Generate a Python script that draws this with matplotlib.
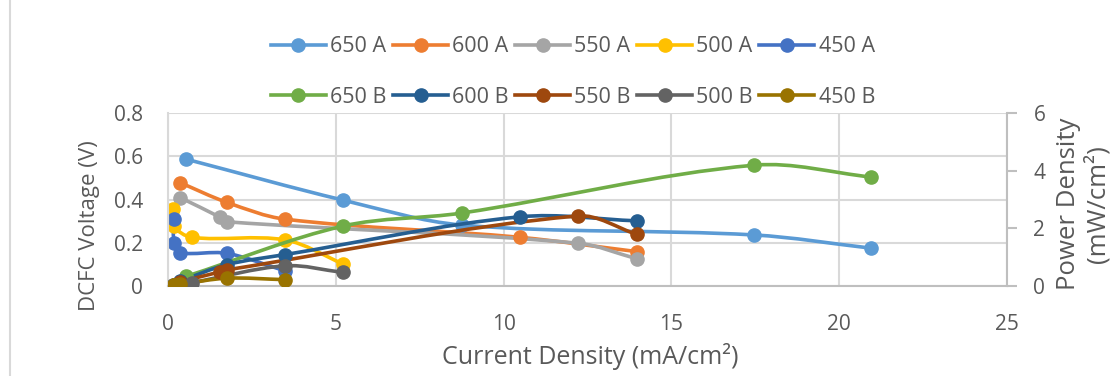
import matplotlib
matplotlib.use("Agg")
import matplotlib.pyplot as plt
from matplotlib.path import Path
from matplotlib.patches import PathPatch
from matplotlib.lines import Line2D
import numpy as np

plt.rcParams['font.family'] = ['Open Sans', 'DejaVu Sans']

# ---- data ----
current_650 = [0.53, 5.22, 8.75, 17.47, 20.95]
volt_650 = [0.587, 0.397, 0.282, 0.236, 0.175]
power_650 = [0.33, 2.08, 2.53, 4.19, 3.78]

current_600 = [0.36, 1.75, 3.49, 10.49, 13.97]
volt_600 = [0.478, 0.387, 0.309, 0.225, 0.159]
power_600 = [0.17, 0.74, 1.09, 2.40, 2.26]

current_550 = [0.36, 1.55, 1.75, 12.21, 13.97]
volt_550 = [0.409, 0.318, 0.297, 0.198, 0.126]
power_550 = [0.15, 0.49, 0.56, 2.43, 1.79]

current_500 = [0.15, 0.17, 0.71, 3.49, 5.22]
volt_500 = [0.356, 0.278, 0.225, 0.213, 0.102]
power_500 = [0.05, 0.05, 0.12, 0.70, 0.47]

current_450 = [0.17, 0.18, 0.36, 1.75, 3.49]
volt_450 = [0.309, 0.198, 0.154, 0.151, 0.070]
power_450 = [0.05, 0.04, 0.06, 0.27, 0.22]

labels_A = ["650 A", "600 A", "550 A", "500 A", "450 A"]
labels_B = ["650 B", "600 B", "550 B", "500 B", "450 B"]
colors_A = ["#5B9BD5", "#ED7D31", "#A5A5A5", "#FFC000", "#4472C4"]
colors_B = ["#70AD47", "#255E91", "#9E480E", "#636363", "#997300"]

currents = [current_650, current_600, current_550, current_500, current_450]
volts = [volt_650, volt_600, volt_550, volt_500, volt_450]
powers = [power_650, power_600, power_550, power_500, power_450]

x_ticks = [0, 5, 10, 15, 20, 25]
v_ticks = [0, 0.2, 0.4, 0.6, 0.8]
v_tick_labels = ["0", "0.2", "0.4", "0.6", "0.8"]
p_ticks = [0, 2, 4, 6]

X_MAX, V_MAX, P_MAX = 25, 0.8, 6

W, H = 1112, 376
AX_L, AX_R, AX_T, AX_B = 168, 1007, 113, 286


# ---- smoothing helper (Excel-like smoothed line, built in screen proportions) ----
def smooth_path(x, y, ymax):
    sx = (AX_R - AX_L) / X_MAX
    sy = (AX_B - AX_T) / ymax
    pts = np.column_stack([np.asarray(x, float) * sx, np.asarray(y, float) * sy])
    n = len(pts)
    verts = [pts[0]]
    codes = [Path.MOVETO]
    for i in range(n - 1):
        p0 = pts[i - 1] if i > 0 else pts[i]
        p1 = pts[i]
        p2 = pts[i + 1]
        p3 = pts[i + 2] if i + 2 < n else pts[i + 1]
        d01 = np.linalg.norm(p1 - p0)
        d12 = np.linalg.norm(p2 - p1)
        d23 = np.linalg.norm(p3 - p2)
        c1 = p1 + (p2 - p0) * (d12 / (3.0 * (d01 + d12))) if d01 + d12 > 0 else p1
        c2 = p2 - (p3 - p1) * (d12 / (3.0 * (d12 + d23))) if d12 + d23 > 0 else p2
        verts += [c1, c2, p2]
        codes += [Path.CURVE4] * 3
    verts = np.array(verts)
    verts[:, 0] /= sx
    verts[:, 1] /= sy
    return Path(verts, codes)


fig = plt.figure(figsize=(W / 100, H / 100), dpi=100)
ax = fig.add_axes([AX_L / W, 1 - AX_B / H, (AX_R - AX_L) / W, (AX_B - AX_T) / H])
ax2 = ax.twinx()

LW = 2.6
MS = 9.5
text_color = "#595959"
grid_color = "#D9D9D9"
axis_color = "#BFBFBF"

for cx, vy, c in zip(currents, volts, colors_A):
    ax.add_patch(PathPatch(smooth_path(cx, vy, V_MAX), fill=False, edgecolor=c,
                           lw=LW, capstyle='round', joinstyle='round'))
    ax.plot(cx, vy, ls='none', marker='o', ms=MS, color=c, mec=c)

for cx, py, c in zip(currents, powers, colors_B):
    ax2.add_patch(PathPatch(smooth_path(cx, py, P_MAX), fill=False, edgecolor=c,
                            lw=LW, capstyle='round', joinstyle='round'))
    ax2.plot(cx, py, ls='none', marker='o', ms=MS, color=c, mec=c)

ax.set_xlim(0, X_MAX)
ax.set_ylim(0, V_MAX)
ax2.set_ylim(0, P_MAX)
ax.set_xticks(x_ticks)
ax.set_xticklabels([str(t) for t in x_ticks])
ax.set_yticks(v_ticks)
ax.set_yticklabels(v_tick_labels)
ax2.set_yticks(p_ticks)

ax.grid(True, color=grid_color, lw=1.5)
ax.set_axisbelow(True)
ax.spines["top"].set_visible(False)
ax2.spines["top"].set_visible(False)
ax.spines["right"].set_visible(False)
ax2.spines["left"].set_visible(False)
ax2.spines["bottom"].set_visible(False)
ax.spines["left"].set_color(grid_color)
ax.spines["bottom"].set_color(axis_color)
ax.spines["left"].set_linewidth(1.5)
ax.spines["bottom"].set_linewidth(1.5)
ax2.spines["right"].set_color(axis_color)
ax2.spines["right"].set_linewidth(1.5)

TICK_FS = 15
ax.tick_params(axis='y', length=0, labelsize=TICK_FS, labelcolor=text_color, pad=18)
ax.tick_params(axis='x', length=0, labelsize=TICK_FS, labelcolor=text_color, pad=20)
ax2.tick_params(axis='y', length=7, width=1.5, color=axis_color, labelsize=TICK_FS,
                labelcolor=text_color, pad=12)

fig.text(89 / W, 1 - 226 / H, "DCFC Voltage (V)", rotation=90, ha='center',
         va='center', rotation_mode='anchor', fontsize=16, color=text_color)
fig.text(590 / W, 1 - 357 / H, "Current Density (mA/cm²)", ha='center',
         va='center', fontsize=18, color=text_color)
fig.text(1083 / W, 1 - 204 / H, "Power Density\n(mW/cm²)", rotation=90,
         ha='center', va='center', rotation_mode='anchor', fontsize=18.5,
         color=text_color, multialignment='center', linespacing=1.15)

# legend: row 1 = A series, row 2 = B series
handles, labels = [], []
for i in range(5):
    handles.append(Line2D([], [], color=colors_A[i], lw=LW, marker='o', ms=MS))
    labels.append(labels_A[i])
    handles.append(Line2D([], [], color=colors_B[i], lw=LW, marker='o', ms=MS))
    labels.append(labels_B[i])
leg = fig.legend(handles, labels, ncol=5, loc='center',
                 bbox_to_anchor=(573 / W, 1 - 72 / H), frameon=False,
                 fontsize=15.5, handlelength=2.55, handletextpad=0.2,
                 columnspacing=0.3, labelspacing=1.35)
for t in leg.get_texts():
    t.set_color(text_color)

# chart border on the left
fig.add_artist(Line2D([9.5 / W, 9.5 / W], [0, 1], color=grid_color, lw=1.5))

fig.savefig("out.png", dpi=100)
